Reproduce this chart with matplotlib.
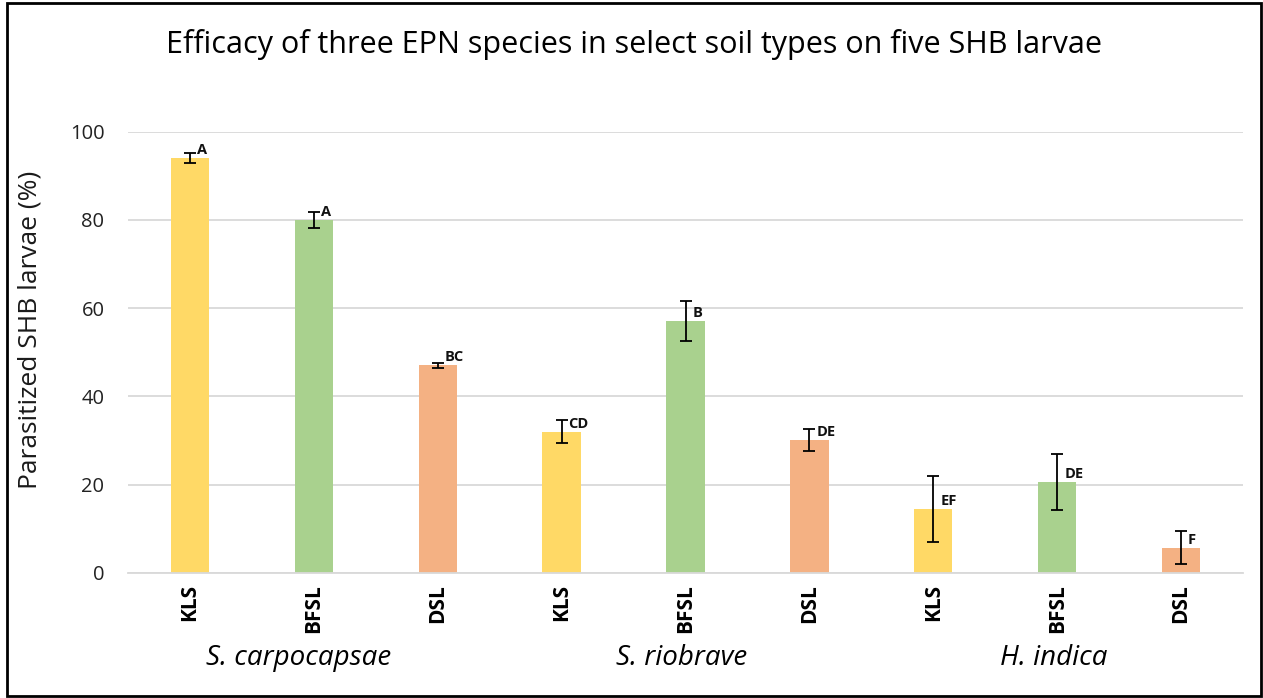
import matplotlib
matplotlib.use("Agg")
import matplotlib.pyplot as plt
from matplotlib.patches import Rectangle

soils = ["KLS", "BFSL", "DSL", "KLS", "BFSL", "DSL", "KLS", "BFSL", "DSL"]
species = ["S. carpocapsae", "S. riobrave", "H. indica"]
values = [94.0, 80.0, 47.0, 32.0, 57.1, 30.1, 14.4, 20.6, 5.7]
errors = [1.2, 1.8, 0.5, 2.6, 4.6, 2.4, 7.5, 6.4, 3.8]
letters = ["A", "A", "BC", "CD", "B", "DE", "EF", "DE", "F"]
soil_colors = {"KLS": "#FFD966", "BFSL": "#A9D18E", "DSL": "#F4B183"}
yticks = [0, 20, 40, 60, 80, 100]

FONT = "Open Sans"
plt.rcParams['font.family'] = [FONT, 'DejaVu Sans']

fig = plt.figure(figsize=(12.63, 6.98), dpi=100)
ax = fig.add_axes([128/1263, 1 - 572.7/698, (1243-128)/1263, (572.7-131.7)/698])

x = list(range(len(values)))
colors = [soil_colors[s] for s in soils]
ax.bar(x, values, width=0.31, color=colors, zorder=2)
ax.errorbar(x, values, yerr=errors, fmt='none', ecolor='black', elinewidth=1.3,
            capsize=4, capthick=1.3, zorder=3)

for xi, v, lab in zip(x, values, letters):
    ax.annotate(lab, (xi, v), xytext=(7, 8), textcoords='offset pixels',
                ha='left', va='center', fontsize=10.5, fontweight='bold', color='#111111')

ax.set_xlim(-0.5, len(values) - 0.5)
ax.set_ylim(0, 100)
ax.set_yticks(yticks)
ax.set_yticklabels([str(t) for t in yticks], fontsize=14.5, color='#222222')
ax.set_xticks(x)
ax.set_xticklabels(soils, rotation=90, fontsize=15, fontweight='bold', color='black')
ax.tick_params(axis='both', length=0)
ax.tick_params(axis='y', pad=17)
ax.tick_params(axis='x', pad=8)
ax.grid(axis='y', color='#D9D9D9', linewidth=1.3, zorder=0)
ax.set_axisbelow(True)
for sp in ['top', 'right', 'left']:
    ax.spines[sp].set_visible(False)
ax.spines['bottom'].set_color('#D9D9D9')
ax.spines['bottom'].set_linewidth(1.3)

ax.set_ylabel("Parasitized SHB larvae (%)", fontsize=19, color='#1a1a1a')
ax.yaxis.set_label_coords((43 - 128) / 1115, (572.7 - 330) / 441)

species_pos = [0.88, 3.97, 6.97]
for sx, name in zip(species_pos, species):
    ax.text(sx, -0.193, name, transform=ax.get_xaxis_transform(), ha='center', va='center',
            fontsize=20, style='italic', color='black')

fig.text(634/1263, 1 - 45/698, "Efficacy of three EPN species in select soil types on five SHB larvae",
         ha='center', va='center', fontsize=22, color='black')

fig.patches.append(Rectangle((7/1263, 2/698), (1261-7)/1263, (695-2)/698, transform=fig.transFigure,
                             fill=False, edgecolor='black', linewidth=2))

fig.savefig("out.png", dpi=100, facecolor='white')
